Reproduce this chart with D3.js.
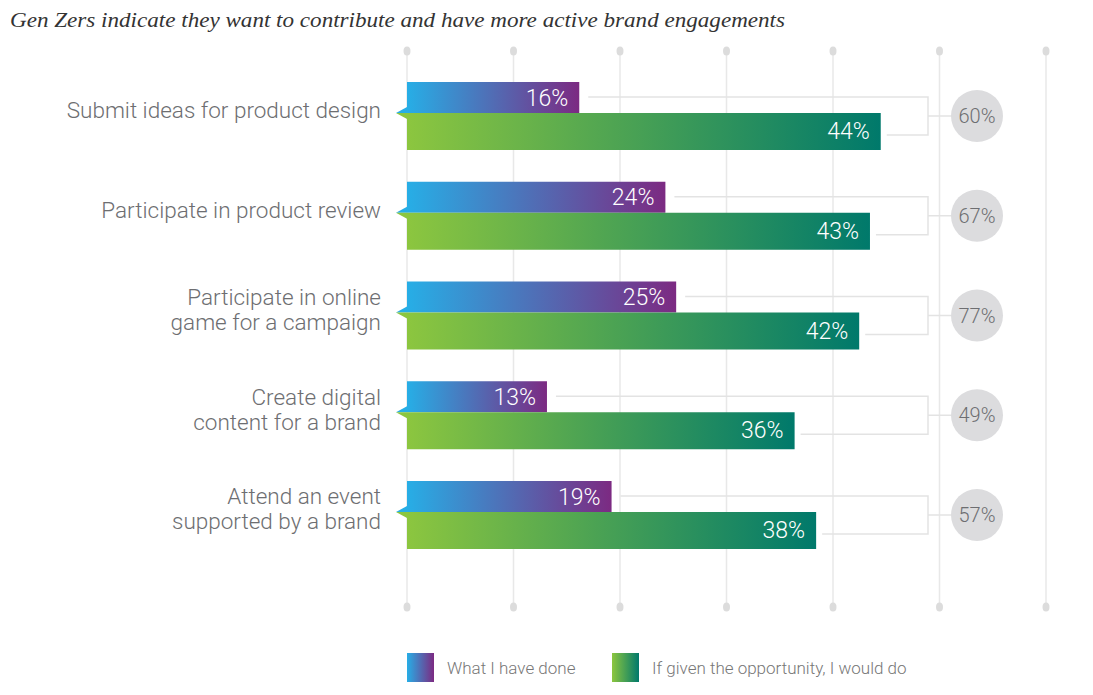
<!DOCTYPE html>
<html><head><meta charset="utf-8">
<script src="https://cdn.jsdelivr.net/npm/d3@7"></script>
<style>body{margin:0;background:#fff}svg{display:block}</style>
</head><body>
<svg id="c" width="1093" height="695"></svg>
<script>
const categories = [
  ["Submit ideas for product design"],
  ["Participate in product review"],
  ["Participate in online", "game for a campaign"],
  ["Create digital", "content for a brand"],
  ["Attend an event", "supported by a brand"]
];
const done = [16, 24, 25, 13, 19];
const wouldDo = [44, 43, 42, 36, 38];
const totals = [60, 67, 77, 49, 57];
const seriesNames = ["What I have done", "If given the opportunity, I would do"];
const gridTicks = [0, 1, 2, 3, 4, 5, 6];

const SANS = "Roboto, Liberation Sans, Arial, sans-serif";
const svg = d3.select("#c");
const defs = svg.append("defs");
function grad(id, c1, c2) {
  const g = defs.append("linearGradient").attr("id", id).attr("x1", "0").attr("x2", "1").attr("y1", "0").attr("y2", "0");
  g.append("stop").attr("offset", "0").attr("stop-color", c1);
  g.append("stop").attr("offset", "1").attr("stop-color", c2);
}
grad("gBlue", "#27aee6", "#7c2a82");
grad("gGreen", "#8cc63f", "#00796b");

const x = d3.scaleLinear().domain([0, 60]).range([407, 1053]);
const gx = d3.scaleLinear().domain([0, 6]).range([407, 1046]);
const y = d3.scaleLinear().domain([0, 4]).range([113, 512]);

svg.append("text").attr("x", 10).attr("y", 27)
  .attr("font-family", "Liberation Serif, serif").attr("font-style", "italic")
  .attr("font-size", 21).attr("fill", "#333").attr("textLength", 775).attr("lengthAdjust", "spacingAndGlyphs")
  .text("Gen Zers indicate they want to contribute and have more active brand engagements");

const grid = svg.append("g");
grid.selectAll("line").data(gridTicks).join("line")
  .attr("x1", d => gx(d)).attr("x2", d => gx(d)).attr("y1", 50).attr("y2", 607)
  .attr("stroke", "#e8e8e8").attr("stroke-width", 1.5);
grid.selectAll("ellipse.t").data(gridTicks).join("ellipse").attr("class", "t")
  .attr("cx", d => gx(d)).attr("cy", 51).attr("rx", 3.5).attr("ry", 4.5).attr("fill", "#dcdcdc");
grid.selectAll("ellipse.b").data(gridTicks).join("ellipse").attr("class", "b")
  .attr("cx", d => gx(d)).attr("cy", 607).attr("rx", 3.5).attr("ry", 4.5).attr("fill", "#dcdcdc");

const rows = svg.append("g").selectAll("g").data(categories).join("g");

rows.each(function(cat, i) {
  const g = d3.select(this);
  const yc = y(i);
  const xd = x(done[i]), xw = x(wouldDo[i]);
  const bx = 928;
  g.append("path")
    .attr("d", `M${xd + 9},${yc - 16}H${bx}V${yc + 22}H${xw + 6}M${bx},${yc + 3}H${960}`)
    .attr("fill", "none").attr("stroke", "#e3e3e3").attr("stroke-width", 1.5);
  g.append("rect").attr("x", x(0)).attr("y", yc - 31).attr("width", xd - x(0)).attr("height", 31).attr("fill", "url(#gBlue)");
  g.append("rect").attr("x", x(0)).attr("y", yc).attr("width", xw - x(0)).attr("height", 37).attr("fill", "url(#gGreen)");
  g.append("path").attr("d", `M${x(0)},${yc - 6}L${x(0) - 11},${yc}L${x(0)},${yc}Z`).attr("fill", "#27aee6");
  g.append("path").attr("d", `M${x(0)},${yc + 6}L${x(0) - 11},${yc}L${x(0)},${yc}Z`).attr("fill", "#8cc63f");
  g.append("text").attr("x", xd - 11).attr("y", yc - 15.5).attr("dy", "0.35em").attr("text-anchor", "end")
    .attr("font-family", SANS).attr("font-weight", 300).attr("font-size", 23).attr("fill", "#fff").text(done[i] + "%");
  g.append("text").attr("x", xw - 11).attr("y", yc + 18).attr("dy", "0.35em").attr("text-anchor", "end")
    .attr("font-family", SANS).attr("font-weight", 300).attr("font-size", 23).attr("fill", "#fff").text(wouldDo[i] + "%");
  g.append("circle").attr("cx", 977).attr("cy", yc + 3).attr("r", 26).attr("fill", "#dcdcde");
  g.append("text").attr("x", 977).attr("y", yc + 3).attr("dy", "0.35em").attr("text-anchor", "middle")
    .attr("font-family", SANS).attr("font-weight", 300).attr("font-size", 20).attr("fill", "#6d6e71").text(totals[i] + "%");
  const lh = 25;
  const t = g.append("text").attr("text-anchor", "end")
    .attr("font-family", SANS).attr("font-weight", 300).attr("font-size", 22.5).attr("fill", "#6d6e71");
  cat.forEach((line, k) => {
    t.append("tspan").attr("x", 381).attr("y", yc - 3 + (k - (cat.length - 1) / 2) * lh).attr("dy", "0.35em").text(line);
  });
});

const leg = svg.append("g");
const legX = [407, 612];
const legFill = ["url(#gBlue)", "url(#gGreen)"];
seriesNames.forEach((n, i) => {
  leg.append("rect").attr("x", legX[i]).attr("y", 653).attr("width", 27).attr("height", 29).attr("fill", legFill[i]);
  leg.append("text").attr("x", legX[i] + 40).attr("y", 668).attr("dy", "0.35em")
    .attr("font-family", SANS).attr("font-weight", 300).attr("font-size", 17).attr("fill", "#777").text(n);
});
</script>
</body></html>
